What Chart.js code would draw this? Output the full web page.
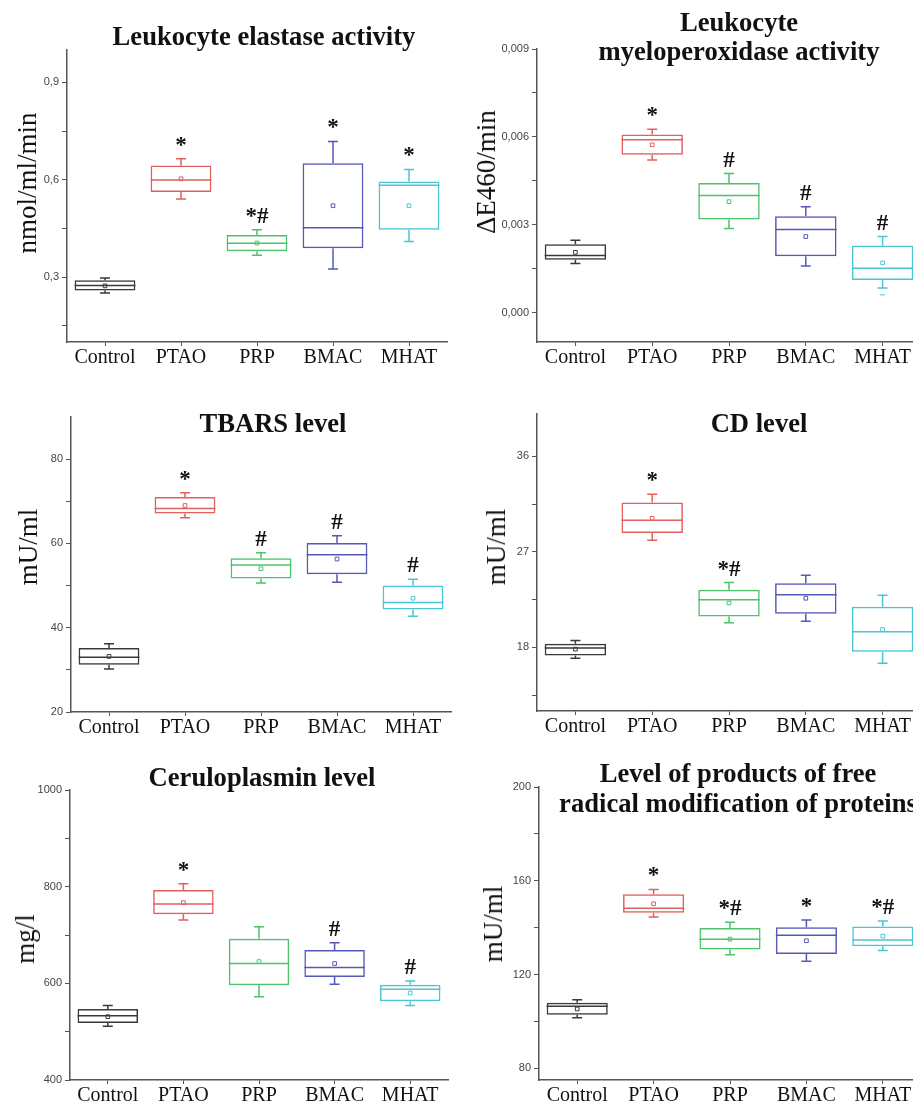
<!DOCTYPE html>
<html>
<head>
<meta charset="utf-8">
<script src="https://cdn.jsdelivr.net/npm/chart.js@4.4.0/dist/chart.umd.min.js"></script>
<style>
body { margin: 0; width: 913px; height: 1106px; overflow: hidden; background: #fff; position: relative; }
canvas { position: absolute; }
.title { position: absolute; width: 460px; margin-left: -230px; text-align: center; font: bold 26.6px "Liberation Serif", "Times New Roman", serif; line-height: 30px; color: #111; white-space: nowrap; }
.ylab { position: absolute; font: 27px "Liberation Serif", "Times New Roman", serif; line-height: 30px; color: #111; white-space: nowrap; transform: translate(-50%, -50%) rotate(-90deg); }
</style>
</head>
<body>
<canvas id="c1" width="456" height="372" style="left:0;top:0;width:456px;height:372px"></canvas>
<canvas id="c2" width="470" height="372" style="left:456px;top:0;width:470px;height:372px"></canvas>
<canvas id="c3" width="456" height="350" style="left:0;top:390px;width:456px;height:350px"></canvas>
<canvas id="c4" width="470" height="350" style="left:456px;top:390px;width:470px;height:350px"></canvas>
<canvas id="c5" width="456" height="356" style="left:0;top:750px;width:456px;height:356px"></canvas>
<canvas id="c6" width="470" height="356" style="left:456px;top:750px;width:470px;height:356px"></canvas>

<div class="title" style="left:264px;top:21px">Leukocyte elastase activity</div>
<div class="title" style="left:739px;top:8px;line-height:29px">Leukocyte<br>myeloperoxidase activity</div>
<div class="title" style="left:273px;top:408px">TBARS level</div>
<div class="title" style="left:759px;top:408px">CD level</div>
<div class="title" style="left:262px;top:762px">Ceruloplasmin level</div>
<div class="title" style="left:738px;top:758px">Level of products of free<br>radical modification of proteins</div>

<div class="ylab" style="left:27px;top:183px">nmol/ml/min</div>
<div class="ylab" style="left:486px;top:172px">ΔE460/min</div>
<div class="ylab" style="left:28px;top:547px">mU/ml</div>
<div class="ylab" style="left:496px;top:547px">mU/ml</div>
<div class="ylab" style="left:25px;top:939px">mg/l</div>
<div class="ylab" style="left:493px;top:924px">mU/ml</div>

<script>
const groups = ['Control', 'PTAO', 'PRP', 'BMAC', 'MHAT'];
const boxColors = ['#3a3a3a', '#e0605e', '#4cc26a', '#5558b8', '#4ac6d2'];

// Leukocyte elastase activity
const elastaseLow  = [0.251, 0.541, 0.367, 0.325, 0.410];
const elastaseQ1   = [0.259, 0.562, 0.380, 0.389, 0.446];
const elastaseMed  = [0.274, 0.599, 0.404, 0.452, 0.583];
const elastaseQ3   = [0.290, 0.644, 0.430, 0.651, 0.595];
const elastaseHigh = [0.297, 0.665, 0.446, 0.718, 0.632];
const elastaseMean = [0.273, 0.603, 0.405, 0.520, 0.520];
const elastaseMarks = ['', '*', '*#', '*', '*'];
const elastaseTicks = [0.3, 0.6, 0.9];
const elastaseMinor = [0.15, 0.45, 0.75];

// Leukocyte myeloperoxidase activity
const mpoLow  = [0.00168, 0.00521, 0.00287, 0.00159, 0.00084];
const mpoQ1   = [0.00181, 0.00539, 0.00318, 0.00193, 0.00112];
const mpoMed  = [0.00195, 0.00590, 0.00400, 0.00284, 0.00152];
const mpoQ3   = [0.00234, 0.00608, 0.00443, 0.00329, 0.00229];
const mpoHigh = [0.00247, 0.00626, 0.00475, 0.00362, 0.00260];
const mpoMean = [0.00206, 0.00573, 0.00379, 0.00260, 0.00170];
const mpoOutlier = [null, null, null, null, 0.00061];
const mpoMarks = ['', '*', '#', '#', '#'];
const mpoTicks = [0, 0.003, 0.006, 0.009];
const mpoMinor = [0.0015, 0.0045, 0.0075];

// TBARS level
const tbarsLow  = [30.2, 66.1, 50.6, 50.8, 42.7];
const tbarsQ1   = [31.2, 67.1, 51.7, 52.7, 44.3];
const tbarsMed  = [33.0, 68.3, 54.9, 57.3, 46.0];
const tbarsQ3   = [35.2, 71.0, 56.5, 60.1, 50.0];
const tbarsHigh = [36.2, 72.0, 57.8, 61.8, 51.5];
const tbarsMean = [33.2, 69.0, 54.0, 56.3, 47.0];
const tbarsMarks = ['', '*', '#', '#', '#'];
const tbarsTicks = [20, 40, 60, 80];
const tbarsMinor = [30, 50, 70];

// CD level
const cdLow  = [16.98, 28.10, 20.31, 20.47, 16.51];
const cdQ1   = [17.23, 28.79, 20.91, 21.16, 17.58];
const cdMed  = [17.95, 29.98, 22.48, 22.95, 19.46];
const cdQ3   = [18.33, 31.65, 23.42, 24.05, 21.82];
const cdHigh = [18.64, 32.43, 24.11, 24.80, 22.92];
const cdMean = [17.83, 30.17, 22.19, 22.63, 19.68];
const cdMarks = ['', '*', '*#', '', ''];
const cdTicks = [18, 27, 36];
const cdMinor = [13.5, 22.5, 31.5];

// Ceruloplasmin level
const cpLow  = [511, 731, 572, 598, 554];
const cpQ1   = [518, 743, 596, 613, 563];
const cpMed  = [533, 764, 641, 633, 588];
const cpQ3   = [547, 793, 692, 669, 597];
const cpHigh = [554, 806, 717, 684, 605];
const cpMean = [531, 767, 645, 641, 580];
const cpMarks = ['', '*', '', '#', '#'];
const cpTicks = [400, 600, 800, 1000];
const cpMinor = [500, 700, 900];

// Products of free radical modification of proteins
const protLow  = [101.6, 144.5, 128.4, 125.7, 130.2];
const protQ1   = [102.8, 146.3, 130.7, 128.8, 132.1];
const protMed  = [106.5, 148.3, 135.1, 136.8, 134.7];
const protQ3   = [108.0, 154.2, 139.8, 140.2, 140.5];
const protHigh = [109.2, 156.3, 142.3, 143.3, 142.8];
const protMean = [105.3, 150.2, 135.1, 134.4, 136.4];
const protMarks = ['', '*', '*#', '*', '*#'];
const protTicks = [80, 120, 160, 200];
const protMinor = [100, 140, 180];

// area = [left, top, right, bottom] of the plot inside each canvas
const panels = [
    { id: 'c1', low: elastaseLow, q1: elastaseQ1, med: elastaseMed, q3: elastaseQ3, high: elastaseHigh, mean: elastaseMean, marks: elastaseMarks, major: elastaseTicks, minor: elastaseMinor, min: 0.1, max: 1.0, dec: 1, area: [67, 50, 447, 342] },
    { id: 'c2', low: mpoLow, q1: mpoQ1, med: mpoMed, q3: mpoQ3, high: mpoHigh, mean: mpoMean, outlier: mpoOutlier, marks: mpoMarks, major: mpoTicks, minor: mpoMinor, min: -0.001, max: 0.009, dec: 3, area: [81, 49, 466, 342] },
    { id: 'c3', low: tbarsLow, q1: tbarsQ1, med: tbarsMed, q3: tbarsQ3, high: tbarsHigh, mean: tbarsMean, marks: tbarsMarks, major: tbarsTicks, minor: tbarsMinor, min: 20, max: 90, dec: 0, area: [71, 27, 451, 322] },
    { id: 'c4', low: cdLow, q1: cdQ1, med: cdMed, q3: cdQ3, high: cdHigh, mean: cdMean, marks: cdMarks, major: cdTicks, minor: cdMinor, min: 12, max: 40, dec: 0, area: [81, 24, 466, 321] },
    { id: 'c5', low: cpLow, q1: cpQ1, med: cpMed, q3: cpQ3, high: cpHigh, mean: cpMean, marks: cpMarks, major: cpTicks, minor: cpMinor, min: 400, max: 1000, dec: 0, area: [70, 40, 448, 330] },
    { id: 'c6', low: protLow, q1: protQ1, med: protMed, q3: protQ3, high: protHigh, mean: protMean, marks: protMarks, major: protTicks, minor: protMinor, min: 75, max: 200, dec: 0, area: [83, 37, 466, 330] }
];

// whiskers, medians and the * / # marks
const boxPlot = {
    id: 'boxPlot',
    afterDatasetsDraw(chart) {
        const p = panels.find(q => q.id === chart.canvas.id);
        const xs = chart.scales.x, ys = chart.scales.y, ctx = chart.ctx;
        const bars = chart.getDatasetMeta(0).data;
        ctx.save();
        ctx.lineWidth = 1.5;
        p.q1.forEach((_, i) => {
            const cx = xs.getPixelForValue(i);
            const half = bars[i].width / 2;
            const cap = 5;
            const yHi = ys.getPixelForValue(p.high[i]);
            const yLo = ys.getPixelForValue(p.low[i]);
            const yQ3 = ys.getPixelForValue(p.q3[i]);
            const yQ1 = ys.getPixelForValue(p.q1[i]);
            const yMed = ys.getPixelForValue(p.med[i]);
            ctx.strokeStyle = boxColors[i];
            ctx.beginPath();
            ctx.moveTo(cx, yHi); ctx.lineTo(cx, yQ3);
            ctx.moveTo(cx, yQ1); ctx.lineTo(cx, yLo);
            ctx.moveTo(cx - cap, yHi); ctx.lineTo(cx + cap, yHi);
            ctx.moveTo(cx - cap, yLo); ctx.lineTo(cx + cap, yLo);
            ctx.moveTo(cx - half, yMed); ctx.lineTo(cx + half, yMed);
            ctx.stroke();
            if (p.marks[i]) {
                ctx.fillStyle = '#111';
                ctx.font = 'bold 23px "Liberation Serif", serif';
                ctx.textAlign = 'center';
                ctx.textBaseline = 'alphabetic';
                ctx.fillText(p.marks[i], cx, yHi - 7);
            }
        });
        ctx.restore();
    }
};

panels.forEach(p => {
    const canvas = document.getElementById(p.id);
    const W = canvas.width, H = canvas.height;
    const isMajor = v => p.major.some(m => Math.abs(m - v) < 1e-9);

    const datasets = [
        {
            type: 'bar',
            data: p.q1.map((v, i) => [v, p.q3[i]]),
            backgroundColor: 'rgba(0,0,0,0)',
            borderColor: boxColors,
            borderWidth: 1.5,
            borderSkipped: false,
            barPercentage: 0.8,
            categoryPercentage: 1
        },
        {
            type: 'line',
            data: p.mean,
            showLine: false,
            pointStyle: 'rect',
            pointRadius: 2.6,
            pointBorderWidth: 1,
            pointBorderColor: boxColors,
            pointBackgroundColor: 'rgba(0,0,0,0)'
        }
    ];
    if (p.outlier) {
        datasets.push({
            type: 'line',
            data: p.outlier,
            showLine: false,
            pointStyle: 'line',
            pointRadius: 2.5,
            pointBorderWidth: 1,
            pointBorderColor: boxColors
        });
    }

    new Chart(canvas, {
        data: { labels: groups, datasets: datasets },
        options: {
            responsive: false,
            animation: false,
            events: [],
            layout: { padding: { left: 0, top: p.area[1], right: W - p.area[2], bottom: 0 } },
            plugins: { legend: { display: false }, tooltip: { enabled: false } },
            scales: {
                x: {
                    type: 'category',
                    offset: true,
                    afterFit: s => { s.height = H - p.area[3]; s.paddingLeft = 0; s.paddingRight = 0; },
                    ticks: {
                        font: { family: '"Liberation Serif", serif', size: 20 },
                        color: '#111',
                        padding: 0,
                        maxRotation: 0,
                        autoSkip: false
                    },
                    grid: { offset: false, drawOnChartArea: false, tickLength: 4, color: '#555' },
                    border: { color: '#555', width: 1.5 }
                },
                y: {
                    type: 'linear',
                    min: p.min,
                    max: p.max,
                    afterBuildTicks: s => {
                        s.ticks = p.major.concat(p.minor).sort((a, b) => a - b).map(v => ({ value: v }));
                    },
                    afterFit: s => { s.width = p.area[0]; s.paddingTop = 0; s.paddingBottom = 0; },
                    ticks: {
                        callback: v => isMajor(v) ? v.toFixed(p.dec).replace('.', ',') : '',
                        font: { family: '"Liberation Sans", Arial, sans-serif', size: 11 },
                        color: '#444',
                        padding: 3,
                        autoSkip: false
                    },
                    grid: { drawOnChartArea: false, tickLength: 5, color: '#555' },
                    border: { color: '#555', width: 1.5 }
                }
            }
        },
        plugins: [boxPlot]
    });
});
</script>
</body>
</html>
